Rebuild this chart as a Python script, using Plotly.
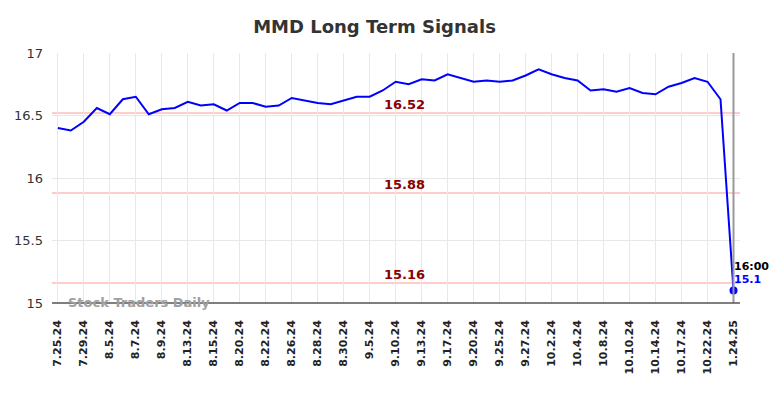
import plotly.graph_objects as go

dates = ["7.25.24", "7.26.24", "7.29.24", "8.1.24", "8.5.24", "8.6.24", "8.7.24", "8.8.24",
         "8.9.24", "8.12.24", "8.13.24", "8.14.24", "8.15.24", "8.19.24", "8.20.24", "8.21.24",
         "8.22.24", "8.23.24", "8.26.24", "8.27.24", "8.28.24", "8.29.24", "8.30.24", "9.4.24",
         "9.5.24", "9.9.24", "9.10.24", "9.12.24", "9.13.24", "9.16.24", "9.17.24", "9.19.24",
         "9.20.24", "9.24.24", "9.25.24", "9.26.24", "9.27.24", "10.1.24", "10.2.24", "10.3.24",
         "10.4.24", "10.7.24", "10.8.24", "10.9.24", "10.10.24", "10.11.24", "10.14.24", "10.16.24",
         "10.17.24", "10.21.24", "10.22.24", "10.23.24", "1.24.25"]
prices = [16.40, 16.38, 16.45, 16.56, 16.51, 16.63, 16.65, 16.51, 16.55, 16.56,
          16.61, 16.58, 16.59, 16.54, 16.60, 16.60, 16.57, 16.58, 16.64, 16.62,
          16.60, 16.59, 16.62, 16.65, 16.65, 16.70, 16.77, 16.75, 16.79, 16.78,
          16.83, 16.80, 16.77, 16.78, 16.77, 16.78, 16.82, 16.87, 16.83, 16.80,
          16.78, 16.70, 16.71, 16.69, 16.72, 16.68, 16.67, 16.73, 16.76, 16.80,
          16.77, 16.63, 15.10]
tick_labels = dates[::2]
signal_levels = [16.52, 15.88, 15.16]
last_time = "16:00"

fig = go.Figure()

for lvl in signal_levels:
    fig.add_shape(type="line", xref="paper", yref="y", x0=0, x1=1, y0=lvl, y1=lvl,
                  line=dict(color="#ffcccc", width=2), layer="below")
    fig.add_annotation(xref="paper", yref="y", x=0.513, y=lvl, text=f"<b>{lvl:.2f}</b>",
                       showarrow=False, yshift=9, font=dict(color="#8b0000", size=13,
                                                            family="DejaVu Sans"))

fig.add_trace(go.Scatter(x=dates, y=prices, mode="lines",
                         line=dict(color="#0000ff", width=2), hoverinfo="skip"))
fig.add_trace(go.Scatter(x=[dates[-1]], y=[prices[-1]], mode="markers",
                         marker=dict(color="#0000ff", size=8), hoverinfo="skip"))

fig.add_shape(type="line", xref="x", yref="paper", x0=dates[-1], x1=dates[-1], y0=0, y1=1,
              line=dict(color="#999999", width=2))

fig.add_annotation(x=dates[-1], y=prices[-1], text=f"<b>{last_time}</b>", showarrow=False,
                   xanchor="left", yshift=24, xshift=-2,
                   font=dict(color="#000000", size=11, family="DejaVu Sans"))
fig.add_annotation(x=dates[-1], y=prices[-1], text=f"<b>{prices[-1]}</b>", showarrow=False,
                   xanchor="left", yshift=11, xshift=-2,
                   font=dict(color="#0000ff", size=11, family="DejaVu Sans"))

fig.add_annotation(xref="paper", yref="paper", x=0.02, y=0.0, text="<b>Stock Traders Daily</b>",
                   showarrow=False, xanchor="left", yanchor="middle", yshift=1,
                   font=dict(color="#a0a0a0", size=13, family="DejaVu Sans"))

fig.update_layout(
    width=784, height=398,
    margin=dict(l=52, r=44, t=53, b=95),
    paper_bgcolor="white", plot_bgcolor="white",
    showlegend=False,
    title=dict(text="<b>MMD Long Term Signals</b>", x=0.4777, xref="container", xanchor="center",
               y=0.932, yref="container", yanchor="middle",
               font=dict(size=18, color="#333333", family="DejaVu Sans")),
    font=dict(family="DejaVu Sans"),
)
fig.update_xaxes(type="category", range=[-0.45, 52.5], tickmode="array",
                 tickvals=tick_labels, ticktext=[f"<b>{t}</b>" for t in tick_labels],
                 tickangle=-90, tickfont=dict(size=11, color="#222222"),
                 showgrid=True, gridcolor="#e8e8e8", gridwidth=1,
                 showline=False, zeroline=False, ticks="", ticklabelstandoff=14)
fig.update_yaxes(range=[15, 17], tickvals=[15, 15.5, 16, 16.5, 17],
                 ticktext=["15", "15.5", "16", "16.5", "17"],
                 tickfont=dict(size=13, color="#333333"),
                 showgrid=True, gridcolor="#e8e8e8", gridwidth=1, zeroline=False,
                 showline=False, ticks="", ticklabelstandoff=8)
fig.add_shape(type="line", xref="paper", yref="paper", x0=0, x1=1, y0=0, y1=0,
              line=dict(color="#555555", width=1.5))

fig.write_html("out.html", config={"displayModeBar": False},
               post_script="document.body.style.margin='0';document.body.style.overflow='hidden';")
